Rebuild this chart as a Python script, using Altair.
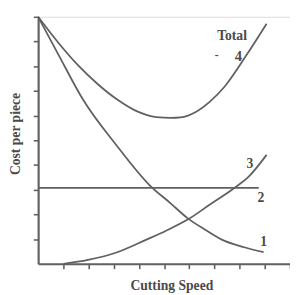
import altair as alt
import pandas as pd

# Curve 1 (decreasing)
c1_x = [0, 0.81, 1.78, 3.14, 4.42, 5.27, 5.93, 6.63, 7.29, 8.18, 8.95]
c1_y = [10.0, 8.46, 6.65, 4.76, 3.19, 2.44, 1.85, 1.38, 0.98, 0.67, 0.47]
# Total curve
tot_x = [0, 0.81, 1.59, 2.36, 3.14, 3.91, 4.69, 5.27, 5.66, 6.24, 6.82, 7.40, 8.26, 9.07]
tot_y = [10.0, 8.94, 8.03, 7.28, 6.65, 6.18, 5.94, 5.91, 5.93, 6.14, 6.57, 7.17, 8.43, 9.72]
# Curve 3 (increasing)
c3_x = [1.01, 1.98, 3.14, 4.30, 5.08, 5.97, 6.82, 7.79, 8.37, 9.07]
c3_y = [0.0, 0.16, 0.47, 0.98, 1.34, 1.81, 2.40, 3.07, 3.54, 4.41]
# Line 2 (constant)
c2_x = [0, 8.76]
c2_y = [3.07, 3.07]

label_text = ["Total", "-", "4", "3", "2", "1"]
label_x = [7.70, 7.09, 7.95, 8.41, 8.84, 8.95]
label_y = [9.21, 8.43, 8.39, 4.02, 2.64, 0.87]
label_size = [14, 12, 15, 14, 14, 14]

tick_values = [1, 2, 3, 4, 5, 6, 7, 8, 9, 10]

rows = []
for name, xs, ys in [("1", c1_x, c1_y), ("Total", tot_x, tot_y), ("3", c3_x, c3_y), ("2", c2_x, c2_y)]:
    for i, (a, b) in enumerate(zip(xs, ys)):
        rows.append({"curve": name, "x": a, "y": b, "o": i})
df = pd.DataFrame(rows)
lab = pd.DataFrame({"t": label_text, "x": label_x, "y": label_y, "s": label_size})

FONT = "Liberation Serif"
GREY = "#606060"
TXT = "#4a4a4a"

xs = alt.Scale(domain=[0, 10], nice=False, zero=False)
ys = alt.Scale(domain=[0, 10], nice=False, zero=False)

lines = alt.Chart(df).mark_line(color=GREY, strokeWidth=1.8, interpolate="monotone").encode(
    x=alt.X("x:Q", scale=xs, axis=alt.Axis(
        title="Cutting Speed", labels=False, grid=False, tickCount=10, values=tick_values,
        tickSize=5, tickColor=GREY, domainColor=GREY, domainWidth=2.2, tickWidth=1.6,
        titleFont=FONT, titleFontSize=14, titleFontWeight="bold", titleColor=TXT,
        titleBaseline="middle", titleAlign="center", titleX=137, titleY=22)),
    y=alt.Y("y:Q", scale=ys, axis=alt.Axis(
        title="Cost per piece", labels=False, grid=False, tickCount=10, values=tick_values,
        tickSize=5, tickColor=GREY, domainColor=GREY, domainWidth=2.2, tickWidth=1.6,
        titleFont=FONT, titleFontSize=14, titleFontWeight="bold", titleColor=TXT,
        titleAngle=270, titleBaseline="middle", titleAlign="center", titleX=-23, titleY=120)),
    detail="curve:N",
    order="o:Q",
)

labels = alt.Chart(lab).mark_text(font=FONT, fontWeight="bold", color=TXT).encode(
    x=alt.X("x:Q", scale=xs), y=alt.Y("y:Q", scale=ys), text="t:N",
    size=alt.Size("s:Q", scale=None, legend=None),
)

chart = (lines + labels).properties(
    width=259, height=254,
    autosize=alt.AutoSizeParams(type="none"),
    padding={"left": 31, "top": 5, "right": 0, "bottom": 28},
).configure_view(stroke=None).configure(background="white")

chart.save("out.html", embed_options={"renderer": "svg", "actions": False})
